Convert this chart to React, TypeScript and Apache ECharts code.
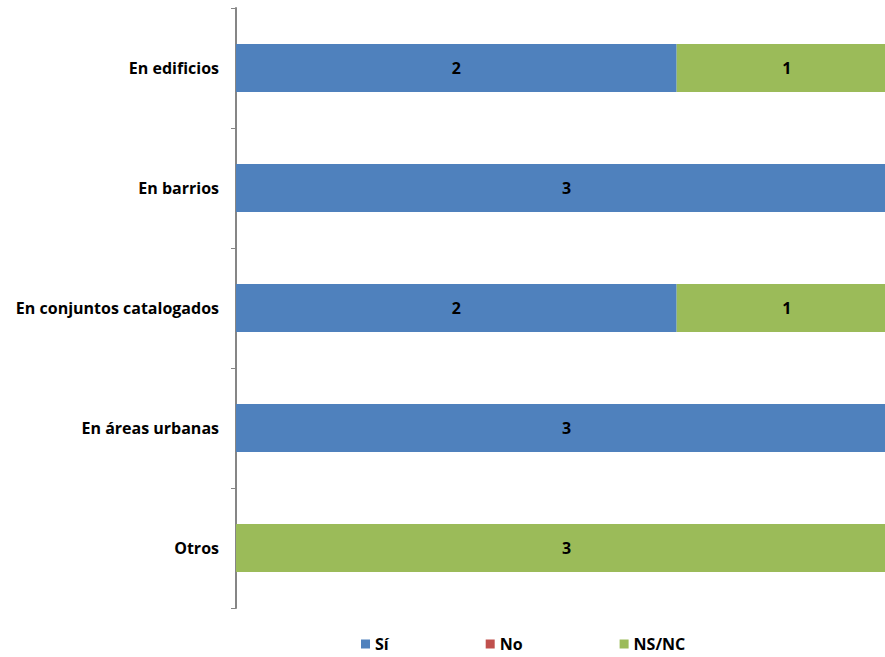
import React, { useEffect, useRef } from "react";
import * as echarts from "echarts";

const categories = ["En edificios", "En barrios", "En conjuntos catalogados", "En áreas urbanas", "Otros"];
const siValues = [2, 3, 2, 3, 0];
const noValues = [0, 0, 0, 0, 0];
const nsncValues = [1, 0, 1, 0, 3];
const seriesNames = ["Sí", "No", "NS/NC"];
const colors = ["#4F81BD", "#C0504D", "#9BBB59"];

const FONT = "Open Sans";

export default function App() {
  const ref = useRef<HTMLDivElement>(null);
  useEffect(() => {
    if (!ref.current) return;
    const chart = echarts.init(ref.current, null, { renderer: "svg" });
    const label = {
      show: true,
      position: "inside",
      color: "#000",
      fontWeight: "bold",
      fontSize: 16,
      fontFamily: FONT,
      formatter: (p: any) => (p.value ? String(p.value) : ""),
    };
    const mk = (name: string, data: number[], color: string) => ({
      name,
      type: "bar",
      stack: "total",
      data,
      barWidth: 48,
      itemStyle: { color },
      label,
    });
    chart.setOption({
      animation: false,
      color: colors,
      grid: {
        left: 236,
        top: 8,
        height: 600,
        width: 661,
        containLabel: false,
        outerBoundsMode: "none",
      },
      xAxis: {
        type: "value",
        min: 0,
        max: 3,
        show: false,
      },
      yAxis: {
        type: "category",
        data: categories,
        inverse: true,
        axisLine: { show: true, lineStyle: { color: "#868686", width: 2 } },
        axisTick: { show: true, length: 5, lineStyle: { color: "#868686", width: 1 } },
        axisLabel: {
          color: "#000",
          fontWeight: "bold",
          fontSize: 16,
          fontFamily: FONT,
          margin: 17,
        },
      },
      legend: {
        data: seriesNames,
        left: 356,
        top: 631,
        itemWidth: 9,
        itemHeight: 9,
        itemGap: 97,
        icon: "rect",
        textStyle: { color: "#000", fontWeight: "bold", fontSize: 16, fontFamily: FONT },
      },
      series: [
        mk(seriesNames[0], siValues, colors[0]),
        mk(seriesNames[1], noValues, colors[1]),
        mk(seriesNames[2], nsncValues, colors[2]),
      ],
    });
    return () => chart.dispose();
  }, []);
  return <div ref={ref} style={{ width: 885, height: 657, position: "absolute", left: 0, top: 0, overflow: "hidden" }} />;
}
